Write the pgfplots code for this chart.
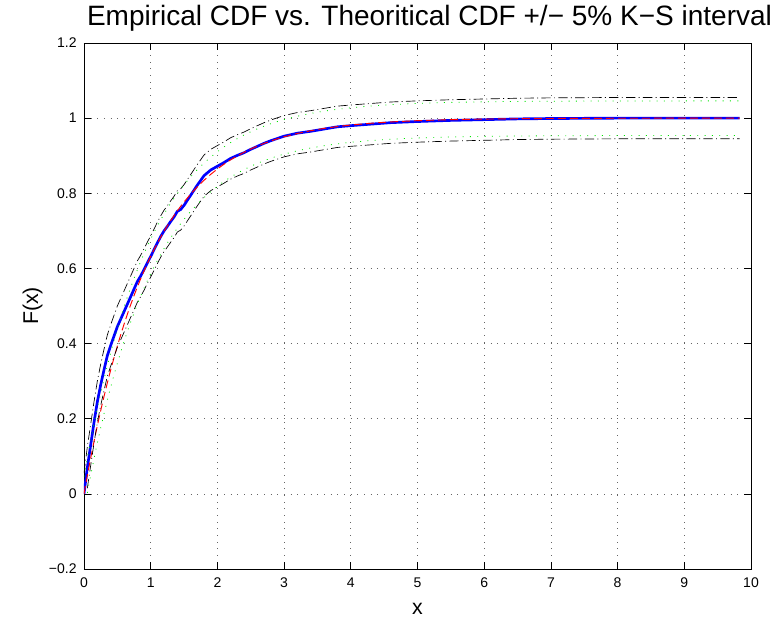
\documentclass[border=0pt]{standalone}
\usepackage{pgfplots}
\pgfplotsset{compat=1.18}
\usepackage{pgfplotstable}
\usepackage{fontspec}
\setmainfont{Liberation Sans}

% x, empirical CDF, theoretical CDF (exp, mean 1),
% K-S band around empirical (eu, el) and around theoretical (fu, fl)
\pgfplotstableread{
x     e      f       eu     el     fu      fl
0     0      0       0.055  nan    0.046   nan
0.05  0.070  0.0488  0.125  0.015  0.0948  0.0028
0.10  0.130  0.0952  0.185  0.075  0.1412  0.0492
0.15  0.190  0.1393  0.245  0.135  0.1853  0.0933
0.20  0.245  0.1813  0.300  0.190  0.2273  0.1353
0.25  0.290  0.2212  0.345  0.235  0.2672  0.1752
0.30  0.330  0.2592  0.385  0.275  0.3052  0.2132
0.35  0.368  0.2953  0.423  0.313  0.3413  0.2493
0.40  0.395  0.3297  0.450  0.340  0.3757  0.2837
0.45  0.420  0.3624  0.475  0.365  0.4084  0.3164
0.50  0.445  0.3935  0.500  0.390  0.4395  0.3475
0.55  0.465  0.4231  0.520  0.410  0.4691  0.3771
0.60  0.485  0.4512  0.540  0.430  0.4972  0.4052
0.65  0.505  0.4780  0.560  0.450  0.5240  0.4320
0.70  0.525  0.5034  0.580  0.470  0.5494  0.4574
0.75  0.545  0.5276  0.600  0.490  0.5736  0.4816
0.80  0.565  0.5507  0.620  0.510  0.5967  0.5047
0.85  0.580  0.5726  0.635  0.525  0.6186  0.5266
0.90  0.597  0.5934  0.652  0.542  0.6394  0.5474
0.95  0.615  0.6133  0.670  0.560  0.6593  0.5673
1.00  0.632  0.6321  0.687  0.577  0.6781  0.5861
1.05  0.650  0.6501  0.705  0.595  0.6961  0.6041
1.10  0.668  0.6671  0.723  0.613  0.7131  0.6211
1.15  0.685  0.6834  0.740  0.630  0.7294  0.6374
1.20  0.700  0.6988  0.755  0.645  0.7448  0.6528
1.25  0.712  0.7135  0.767  0.657  0.7595  0.6675
1.30  0.725  0.7275  0.780  0.670  0.7735  0.6815
1.35  0.737  0.7408  0.792  0.682  0.7868  0.6948
1.40  0.752  0.7534  0.807  0.697  0.7994  0.7074
1.45  0.757  0.7654  0.812  0.702  0.8114  0.7194
1.50  0.768  0.7769  0.823  0.713  0.8229  0.7309
1.60  0.795  0.7981  0.850  0.740  0.8441  0.7521
1.70  0.822  0.8173  0.877  0.767  0.8633  0.7713
1.80  0.847  0.8347  0.902  0.792  0.8807  0.7887
1.90  0.862  0.8504  0.917  0.807  0.8964  0.8044
2.00  0.872  0.8647  0.927  0.817  0.9107  0.8187
2.10  0.882  0.8775  0.937  0.827  0.9235  0.8315
2.20  0.893  0.8892  0.948  0.838  0.9352  0.8432
2.30  0.901  0.8997  0.956  0.846  0.9457  0.8537
2.40  0.908  0.9093  0.963  0.853  0.9553  0.8633
2.50  0.917  0.9179  0.972  0.862  0.9639  0.8719
2.60  0.925  0.9257  0.980  0.870  0.9717  0.8797
2.70  0.933  0.9328  0.988  0.878  0.9788  0.8868
2.80  0.940  0.9392  0.995  0.885  0.9852  0.8932
2.90  0.946  0.9450  1.001  0.891  0.9910  0.8990
3.00  0.952  0.9502  1.007  0.897  0.9962  0.9042
3.20  0.960  0.9592  1.015  0.905  1.0052  0.9132
3.40  0.965  0.9666  1.020  0.910  1.0126  0.9206
3.60  0.971  0.9727  1.026  0.916  1.0187  0.9267
3.80  0.977  0.9776  1.032  0.922  1.0236  0.9316
4.00  0.980  0.9817  1.035  0.925  1.0277  0.9357
4.30  0.984  0.9864  1.039  0.929  1.0324  0.9404
4.60  0.988  0.9899  1.043  0.933  1.0359  0.9439
5.00  0.991  0.9933  1.046  0.936  1.0393  0.9473
5.50  0.994  0.9959  1.049  0.939  1.0419  0.9499
6.00  0.996  0.9975  1.051  0.941  1.0435  0.9515
6.50  0.998  0.9985  1.053  0.943  1.0445  0.9525
7.00  0.999  0.9991  1.054  0.944  1.0451  0.9531
8.00  1.000  0.9997  1.055  0.945  1.0457  0.9537
9.00  1.000  0.9999  1.055  0.945  1.0459  0.9539
9.83  1.000  0.9999  1.055  0.945  1.0459  0.9539
}\cdfdata

\begin{document}
\begin{tikzpicture}
\begin{axis}[
  scale only axis,
  width=500.25pt, height=394.5pt,
  xmin=0, xmax=10, ymin=-0.2, ymax=1.2,
  xtick={0,1,...,10},
  ytick={-0.2,0,0.2,0.4,0.6,0.8,1,1.2},
  yticklabels={−0.2,0,0.2,0.4,0.6,0.8,1,1.2},
  /pgf/number format/assume math mode=true,
  tick label style={font=\fontsize{10.5}{12}\selectfont},
  xticklabel style={yshift=-3pt},
  yticklabel style={xshift=-2pt},
  tick align=inside,
  major tick length=5pt,
  tick style={black, line width=0.5pt},
  axis line style={line width=0.6pt},
  grid=major,
  grid style={black!60, line width=0.5pt, dash pattern=on 0.6pt off 4.4pt},
  title={Empirical CDF vs. Theoritical CDF +/− 5\% K−S interval},
  title style={font=\fontsize{21}{24}\selectfont, yshift=-1pt, xshift=9pt},
  xlabel={x},
  ylabel={F(x)},
  label style={font=\fontsize{16}{18}\selectfont},
  xlabel style={yshift=-5pt},
  ylabel style={yshift=-2pt},
  unbounded coords=discard,
]
\addplot[blue, line width=2pt] table[x=x, y=e] {\cdfdata};
\addplot[red, line width=0.7pt, dash pattern=on 6pt off 3pt] table[x=x, y=f] {\cdfdata};
\addplot[black, line width=0.5pt, dash pattern=on 7pt off 2.5pt on 0.7pt off 2.5pt] table[x=x, y=eu] {\cdfdata};
\addplot[black, line width=0.5pt, dash pattern=on 7pt off 2.5pt on 0.7pt off 2.5pt] table[x=x, y=el] {\cdfdata};
\addplot[green!90!black, line width=0.6pt, dash pattern=on 0.7pt off 4.8pt] table[x=x, y=fu] {\cdfdata};
\addplot[green!90!black, line width=0.6pt, dash pattern=on 0.7pt off 4.8pt] table[x=x, y=fl] {\cdfdata};
\end{axis}
\pgfresetboundingbox
\path[use as bounding box] ([xshift=-63pt,yshift=-37.5pt]current axis.south west)
  rectangle ([xshift=19.5pt,yshift=32.25pt]current axis.north east);
\end{tikzpicture}
\end{document}
